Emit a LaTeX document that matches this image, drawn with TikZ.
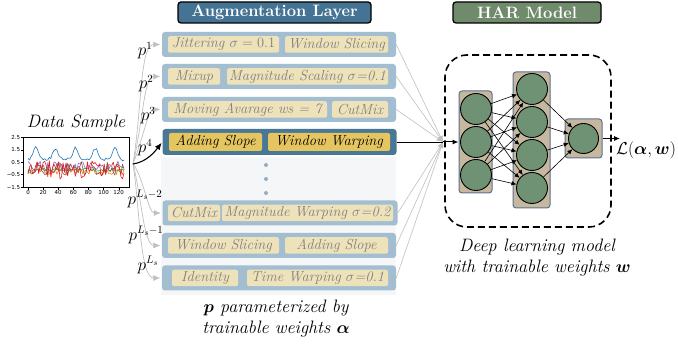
\documentclass[tikz,border=0pt]{standalone}
\usepackage{amsmath,bm}
\usepackage{fontspec}
\newfontfamily\dejavu{DejaVu Sans}
\usetikzlibrary{arrows.meta,calc}
\definecolor{titleblue}{HTML}{457394}
\definecolor{rowblue}{HTML}{A3BED0}
\definecolor{hlblue}{HTML}{497796}
\definecolor{augyel}{HTML}{EDE2B9}
\definecolor{hlyel}{HTML}{E5C560}
\definecolor{augtxt}{HTML}{808080}
\definecolor{panelc}{HTML}{F5F6F8}
\definecolor{dotc}{HTML}{93AFC8}
\definecolor{hargreen}{HTML}{6F8B6C}
\definecolor{netgreen}{HTML}{6F9174}
\definecolor{tanc}{HTML}{C5B89F}
\definecolor{layerborder}{HTML}{5B6F8E}
\definecolor{curvegray}{HTML}{C0C0C0}
\definecolor{tsblue}{HTML}{1F77B4}
\definecolor{tsorange}{HTML}{FF7F0E}
\definecolor{tsgreen}{HTML}{2CA02C}
\definecolor{tsred}{HTML}{E41A1C}
\definecolor{tspurple}{HTML}{9467BD}
\definecolor{tsbrown}{HTML}{8C564B}
\tikzset{
  declare function={pk(\t)=cos((\t-10)/26.3*180);},
  titlebox/.style={draw=black, line width=1.3pt, rounded corners=3pt, text=white, font=\bfseries\fontsize{16.5}{16.5}\selectfont, inner sep=0pt},
  rowbox/.style={rounded corners=3pt, fill=rowblue, minimum height=25pt, minimum width=234pt, inner sep=0pt},
  hlrow/.style={rowbox, fill=hlblue, minimum height=26pt},
  aug/.style={rounded corners=2pt, fill=augyel, text=augtxt, font=\itshape\fontsize{14.5}{14.5}\selectfont, minimum height=16.5pt, inner sep=0pt},
  hlaug/.style={aug, fill=hlyel, text=black, minimum height=18pt},
  pcurve/.style={draw=curvegray, line width=0.7pt, -{Latex[length=7pt,width=6pt]}, shorten >=1.5pt},
  pblack/.style={draw=black, line width=1.1pt, -{Latex[length=7pt,width=6pt]}, shorten >=1pt},
  rline/.style={draw=curvegray, line width=0.6pt, -{Latex[length=6pt,width=5pt]}},
  plab/.style={font=\fontsize{16}{16}\selectfont, inner sep=0pt},
  layerbox/.style={draw=layerborder, line width=1pt, fill=tanc, rounded corners=3pt, inner sep=0pt},
  neuron/.style={circle, draw=black, line width=0.9pt, fill=netgreen, minimum size=31pt, inner sep=0pt},
  netarrow/.style={draw=black, line width=0.6pt, -{Latex[length=5pt,width=4.5pt]}},
  caption/.style={font=\itshape\fontsize{18}{21}\selectfont, align=center, inner sep=0pt},
  ticklab/.style={font=\dejavu\fontsize{5.5}{5.5}\selectfont, inner sep=0.5pt},
  ts/.style={line width=0.6pt, line join=round}
}
\begin{document}
\begin{tikzpicture}[x=1pt,y=-1pt]
\useasboundingbox (0,0) rectangle (678,344);
\fill[white] (0,0) rectangle (678,344);

% ---------- titles
\node[titlebox, fill=titleblue, minimum width=193pt, minimum height=21pt] (augtitle) at (274.5,12.5) {Augmentation Layer};
\node[titlebox, fill=hargreen, minimum width=148pt, minimum height=21pt] (hartitle) at (527,12.5) {HAR Model};

% ---------- panel
\node[fill=panelc, minimum width=235pt, minimum height=138pt, inner sep=0pt] (panel) at (278.5,226) {};
\node[circle, fill=dotc, minimum size=4pt, inner sep=0pt] (d1) at (266,165) {};
\node[circle, fill=dotc, minimum size=4pt, inner sep=0pt] (d2) at (266,179) {};
\node[circle, fill=dotc, minimum size=4pt, inner sep=0pt] (d3) at (266,193) {};

% ---------- rows
\node[rowbox] (r1) at (279,44.5) {};
\node[aug, minimum width=111pt] (a11) at (223.5,44.5) {Jittering $\sigma = 0.1$};
\node[aug, minimum width=103pt] (a12) at (336.5,44.5) {Window Slicing};

\node[rowbox] (r2) at (279,76.5) {};
\node[aug, minimum width=52pt] (a21) at (194,76.5) {Mixup};
\node[aug, minimum width=161pt] (a22) at (307.5,76.5) {Magnitude Scaling $\sigma$=0.1};

\node[rowbox] (r3) at (279,109.5) {};
\node[aug, minimum width=159pt] (a31) at (247.5,109.5) {Moving Avarage ws = 7};
\node[aug, minimum width=56pt] (a32) at (360,109.5) {CutMix};

\node[hlrow] (r4) at (279.5,142) {};
\node[hlaug, minimum width=93pt] (a41) at (215.5,142) {Adding Slope};
\node[hlaug, minimum width=122pt] (a42) at (329,142) {Window Warping};

\node[rowbox, minimum width=235pt] (r5) at (280,213) {};
\node[aug, minimum width=52pt] (a51) at (194,213) {CutMix};
\node[aug, minimum width=171pt] (a52) at (307.5,213) {Magnitude Warping $\sigma$=0.2};

\node[rowbox] (r6) at (279,245.5) {};
\node[aug, minimum width=111pt] (a61) at (223.5,245.5) {Window Slicing};
\node[aug, minimum width=103pt] (a62) at (336.5,245.5) {Adding Slope};

\node[rowbox] (r7) at (279,278) {};
\node[aug, minimum width=66pt] (a71) at (205,278) {Identity};
\node[aug, minimum width=141pt] (a72) at (317.5,278) {Time Warping $\sigma$=0.1};

\node[caption] (capl) at (276,319) {$\bm{p}$ parameterized by\\trainable weights $\bm{\alpha}$};

% ---------- data sample
\node[font=\itshape\fontsize{18}{18}\selectfont, inner sep=0pt] (dstitle) at (76,123) {Data Sample};
\begin{scope}[shift={(28pt,-168.5pt)}, x=0.756pt, y=12.4pt]
  \pgfmathsetseed{11}
  \draw[ts, tsorange] plot[domain=0:127, samples=64] (\x,{-0.25+0.25*rand});
  \draw[ts, tsgreen] plot[domain=0:127, samples=64] (\x,{-0.1+0.12*rand});
  \draw[ts, tspurple] plot[domain=0:127, samples=64] (\x,{0.15+0.45*rand});
  \draw[ts, tsbrown] plot[domain=0:127, samples=64] (\x,{0.0+0.55*rand});
  \draw[ts, tsred] plot[domain=0:127, samples=64] (\x,{-0.1+0.75*rand});
  \draw[ts, tsblue] plot[domain=0:127, samples=64] (\x,{0.75+0.9*pk(\x)*pk(\x)*pk(\x)*pk(\x)*pk(\x)*pk(\x)+0.12*rand});
  \draw[line width=0.8pt] (-6.6,-1.5) rectangle (133.6,2.5);
  \foreach \v/\t [count=\i] in {2.5/2.5,1.5/1.5,0.5/0.5,-0.5/−0.5,-1.5/−1.5}{
    \draw[line width=0.4pt] (-6.6,\v) -- (-9.5,\v);
    \node[ticklab, anchor=east] (yt\i) at (-9.5,\v) {\t};
  }
  \foreach \v [count=\i] in {0,20,40,60,80,100,120}{
    \draw[line width=0.4pt] (\v,-1.5) -- (\v,-1.72);
    \node[ticklab, anchor=north] (xt\i) at (\v,-1.72) {\v};
  }
\end{scope}
\coordinate (o) at (133,164);

% ---------- left curves
\draw[pcurve] (o) .. controls +(9,-55) and +(-22,0) .. (r1.west);
\draw[pcurve] (o) .. controls +(10,-42) and +(-18,0) .. (r2.west);
\draw[pcurve] (o) .. controls +(11,-28) and +(-14,0) .. (r3.west);
\draw[pcurve] (o) .. controls +(10,12) and +(-14,0) .. (r5.west);
\draw[pcurve] (o) .. controls +(8,30) and +(-18,0) .. (r6.west);
\draw[pcurve] (o) .. controls +(7,45) and +(-22,0) .. (r7.west);
\draw[pblack] (o) .. controls +(14,-2) and +(-7,9) .. (r4.west);

\node[plab] (p1) at (145,51) {$p^{1}$};
\node[plab] (p2) at (146,84) {$p^{2}$};
\node[plab] (p3) at (148,116) {$p^{3}$};
\node[plab] (p4) at (145,148) {$p^{4}$};
\node[plab] (p5) at (145,199) {$p^{L_s-2}$};
\node[plab] (p6) at (146,235) {$p^{L_s-1}$};
\node[plab] (p7) at (148,265) {$p^{L_s}$};

% ---------- right converging lines
\coordinate (conv) at (443,142);
\draw[rline] (r1.east) -- (conv);
\draw[rline] (r2.east) -- (conv);
\draw[rline] (r3.east) -- (conv);
\draw[rline] (r5.east) -- (conv);
\draw[rline] (r6.east) -- (conv);
\draw[rline] (r7.east) -- (conv);
\draw[black, line width=0.8pt] (r4.east) -- (conv);

% ---------- HAR model
\node[draw=black, line width=1.6pt, dash pattern=on 7pt off 4pt, rounded corners=22pt, minimum width=166pt, minimum height=172pt, inner sep=0pt] (dl) at (528,141) {};
\node[layerbox, minimum width=33pt, minimum height=102pt] (L1) at (475.5,142) {};
\node[layerbox, minimum width=37pt, minimum height=136pt] (L2) at (531.5,140) {};
\node[layerbox, minimum width=37pt, minimum height=39pt] (L3) at (583.5,138.5) {};
\node[neuron] (n11) at (476,109) {};
\node[neuron] (n12) at (476,142) {};
\node[neuron] (n13) at (476,175) {};
\node[neuron] (n21) at (532,89) {};
\node[neuron] (n22) at (532,122) {};
\node[neuron] (n23) at (532,155) {};
\node[neuron] (n24) at (532,188) {};
\node[neuron, minimum size=30pt] (n31) at (583.5,138.5) {};
\foreach \i in {1,2,3}{\foreach \j in {1,2,3,4}{\draw[netarrow] (n1\i) -- (n2\j);}}
\foreach \j in {1,2,3,4}{\draw[netarrow] (n2\j) -- (n31);}
\draw[black, line width=1pt, -{Latex[length=6pt,width=5pt]}] (conv) -- (L1.west);
\coordinate (outend) at (620,138.5);
\draw[black, line width=0.8pt, -{Latex[length=6pt,width=5pt]}] (L3.east) -- (outend);
\node[font=\fontsize{16.5}{16.5}\selectfont, inner sep=0pt] (loss) at (646,150) {$\mathcal{L}(\bm{\alpha},\bm{w})$};
\node[caption] (capr) at (537,258) {Deep learning model\\with trainable weights $\bm{w}$};
\end{tikzpicture}
\end{document}
